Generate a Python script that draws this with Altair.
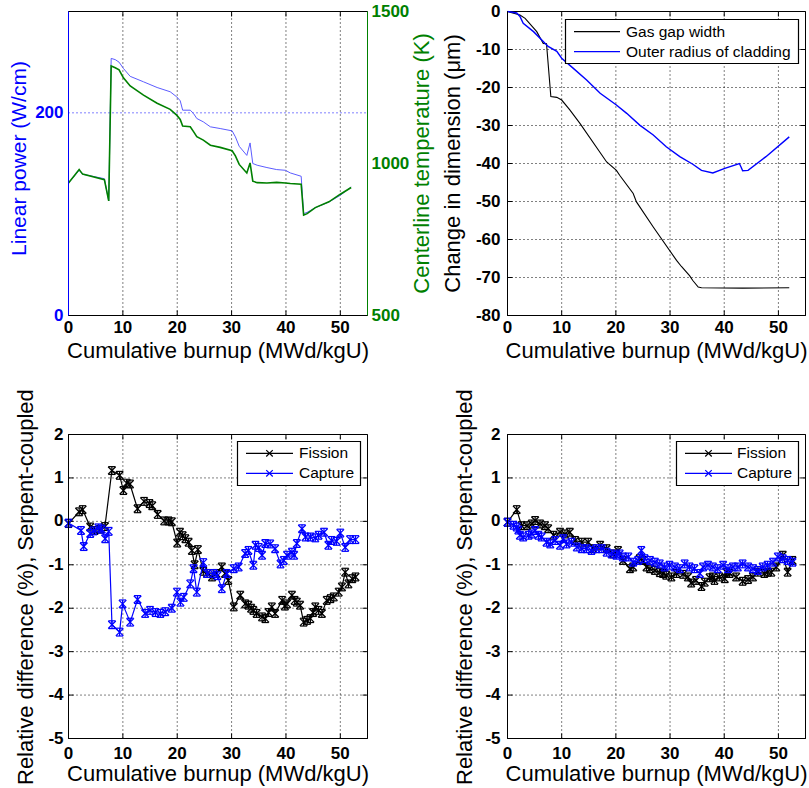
import altair as alt
import pandas as pd

# ---------------- data ----------------
# (a) linear power and centreline temperature vs burnup
p1_burnup = [0, 1.96, 2.6, 6.6, 7.4, 7.85, 8.6, 9.3, 10.1, 11.35, 13.8, 16.3, 18.7, 19.9, 20.55,
             21.0, 22.4, 23.0, 23.6, 24.8, 26.1, 27.9, 30.1, 30.7, 31.4, 32.8, 33.4, 33.9, 34.7, 36.5,
             38.3, 39.9, 40.8, 42.8, 43.25, 43.9, 45.4, 47.9, 50.0, 52.0]
p1_power = [130.8, 143.3, 139.4, 135.0, 113.0, 253.7, 252.5, 250.0, 243.8, 236.0, 230.6, 225.0, 220.8,
            215.8, 211.9, 202.6, 202.6, 199.3, 194.4, 191.1, 186.2, 184.5, 182.2, 176.3, 167.0, 158.0,
            170.3, 150.0, 148.3, 146.0, 144.0, 143.3, 140.7, 137.4, 100.5, 101.8, 106.4, 112.0, 118.6, 126.9]
p1_temp = [936, 980, 965, 947, 877, 1321, 1315, 1308, 1282, 1255, 1225, 1198, 1178, 1159, 1145,
           1123, 1121, 1105, 1088, 1077, 1060, 1053, 1042, 1025, 997, 969, 1002, 942, 937, 936,
           938, 936, 934, 932, 830, 835, 855, 874, 899, 921]

# (b) dimension changes
p2_gap_burnup = [0, 2.3, 3.25, 5.4, 6.6, 7.2, 8.0, 9.1, 10.0, 11.5, 13.4, 18.3, 20.1, 20.7, 23.2,
                 23.8, 26.9, 31.2, 32.1, 33.6, 34.2, 35.2, 35.8, 43.4, 52.0]
p2_gap_change = [0, -0.9, -1.8, -5.3, -8.4, -8.5, -22.4, -22.6, -23.3, -25.9, -29.5, -39.6, -41.8, -43.1,
                 -47.9, -50.1, -56.7, -65.5, -67.1, -69.5, -70.8, -72.5, -72.7, -72.8, -72.7]
p2_clad_burnup = [0, 1.7, 2.3, 2.9, 4.8, 6.6, 7.5, 9.1, 10.0, 12.1, 14.6, 17.1, 20.1, 22.0, 24.4,
                  26.9, 29.3, 31.8, 34.2, 35.8, 37.9, 40.1, 42.8, 43.1, 43.4, 44.4, 47.7, 52.0]
p2_clad_change = [0, -0.4, -1.3, -3.1, -5.3, -7.9, -9.2, -10.5, -12.3, -14.9, -18.0, -21.5, -24.6, -26.8,
                  -29.9, -32.5, -35.6, -38.2, -40.2, -41.8, -42.5, -41.3, -40.0, -40.9, -41.9, -41.8,
                  -38.2, -33.0]

# (c) relative difference, first case
p3_fis_burnup = [0, 1.96, 2.6, 4.0, 4.8, 5.8, 6.7, 7.98, 9.4, 10.1, 10.7, 11.3, 12.7, 13.9, 14.9,
                 15.4, 16.4, 17.6, 18.4, 19.0, 20.0, 20.5, 21.0, 21.5, 22.1, 22.7, 23.2, 23.8, 24.8, 25.5,
                 26.4, 27.2, 28.2, 28.8, 29.4, 30.4, 31.6, 32.5, 33.1, 33.6, 34.0, 34.6, 35.6, 36.2, 36.8,
                 37.4, 38.0, 39.3, 39.8, 40.2, 41.1, 41.6, 42.0, 42.6, 43.25, 43.9, 44.5, 45.0, 45.4, 46.0,
                 46.6, 47.5, 48.2, 48.8, 49.7, 50.3, 50.9, 51.5, 52.2, 52.8]
p3_fis_diff = [-0.05, 0.22, 0.27, -0.13, -0.21, -0.18, -0.12, 1.17, 1.06, 0.71, 0.88, 0.86, 0.29, 0.46, 0.41,
               0.36, 0.16, 0.01, 0.01, -0.01, -0.50, -0.25, -0.33, -0.40, -0.48, -0.67, -1.00, -0.65, -1.15, -1.20,
               -1.28, -1.20, -1.05, -1.20, -1.36, -1.97, -1.70, -1.90, -1.93, -2.00, -2.05, -2.12, -2.20, -2.24, -2.10,
               -1.97, -2.12, -1.82, -1.95, -1.90, -1.70, -1.82, -1.86, -1.93, -2.32, -2.28, -2.24, -2.10, -1.97, -2.05,
               -2.12, -1.82, -1.78, -1.74, -1.63, -1.51, -1.17, -1.44, -1.32, -1.28]
p3_cap_burnup = [0, 2.3, 2.8, 4.0, 4.6, 5.5, 6.1, 6.75, 7.4, 8.0, 9.4, 9.95, 11.35, 12.7, 14.1,
                 15.0, 16.0, 16.9, 17.8, 19.0, 19.95, 20.6, 21.2, 22.4, 23.0, 23.6, 24.8, 25.5, 26.7, 27.4,
                 28.2, 29.1, 30.4, 31.3, 32.5, 33.1, 34.0, 34.4, 35.0, 35.6, 36.2, 37.1, 38.0, 39.0, 39.6,
                 40.2, 41.1, 41.5, 42.0, 42.95, 43.6, 44.5, 45.4, 46.0, 47.0, 47.8, 48.4, 49.3, 50.0, 50.9,
                 51.8, 52.8]
p3_cap_diff = [-0.04, -0.21, -0.58, -0.28, -0.22, -0.15, -0.18, -0.40, -0.23, -2.38, -2.55, -1.90, -2.32, -1.80, -2.12,
               -2.05, -2.10, -2.12, -2.08, -2.00, -1.63, -1.86, -1.75, -1.44, -1.09, -1.63, -0.95, -1.20, -1.20, -1.25,
               -1.55, -1.20, -1.09, -1.05, -0.74, -0.67, -1.01, -0.55, -0.60, -0.78, -0.51, -0.52, -0.63, -0.98, -0.90,
               -0.78, -0.71, -0.78, -0.51, -0.17, -0.36, -0.36, -0.38, -0.32, -0.25, -0.55, -0.44, -0.46, -0.27, -0.60,
               -0.42, -0.42]

# (d) relative difference, second case
p4_fis_burnup = [0, 1.7, 2.6, 3.6, 4.5, 5.1, 6.0, 6.9, 7.5, 8.5, 9.7, 10.6, 11.5, 12.5, 13.7,
                 14.9, 15.8, 17.1, 18.3, 19.5, 20.4, 21.3, 22.6, 23.2, 24.4, 25.0, 25.65, 26.3, 27.2, 28.1,
                 28.7, 29.3, 30.25, 31.2, 32.4, 33.3, 33.9, 34.8, 35.8, 36.4, 37.3, 37.9, 38.2, 39.1, 40.1,
                 40.4, 41.0, 42.2, 43.4, 44.4, 45.3, 46.2, 47.4, 48.0, 48.7, 49.6, 50.8, 51.7, 52.6]
p4_fis_diff = [-0.02, 0.27, -0.10, -0.10, -0.06, 0.02, -0.06, -0.10, -0.17, -0.32, -0.25, -0.29, -0.25, -0.44, -0.48,
               -0.48, -0.63, -0.55, -0.63, -0.75, -0.67, -0.90, -1.09, -1.05, -0.86, -0.90, -1.05, -1.09, -1.13, -1.18,
               -1.20, -1.24, -1.28, -1.20, -1.22, -1.28, -1.42, -1.36, -1.50, -1.40, -1.30, -1.28, -1.36, -1.28, -1.32,
               -1.17, -1.20, -1.28, -1.38, -1.34, -1.28, -1.17, -1.20, -1.17, -1.17, -1.05, -0.78, -1.17, -0.90]
p4_cap_burnup = [0, 1.1, 1.7, 2.0, 2.3, 2.9, 3.9, 4.5, 5.1, 5.7, 6.3, 7.2, 7.9, 8.8, 9.7,
                 10.3, 10.9, 11.8, 12.8, 13.7, 14.6, 15.5, 16.4, 17.4, 18.3, 19.2, 20.1, 20.7, 21.3, 22.3,
                 23.2, 24.1, 24.7, 25.3, 26.3, 27.2, 28.1, 29.0, 29.9, 30.9, 31.8, 32.7, 33.6, 34.5, 35.5,
                 36.1, 37.0, 37.9, 38.8, 39.8, 40.7, 41.6, 42.5, 43.4, 44.4, 45.3, 46.2, 47.1, 48.0, 49.0,
                 49.9, 50.8, 51.7, 52.6]
p4_cap_diff = [-0.02, -0.09, -0.13, -0.20, -0.32, -0.36, -0.32, -0.29, -0.21, -0.32, -0.36, -0.48, -0.52, -0.44, -0.55,
               -0.40, -0.52, -0.48, -0.59, -0.63, -0.63, -0.67, -0.63, -0.63, -0.71, -0.75, -0.78, -0.75, -0.82, -0.82,
               -0.94, -0.90, -0.67, -0.86, -0.90, -0.94, -0.98, -1.05, -1.01, -1.05, -1.09, -0.98, -1.05, -1.09, -1.20,
               -1.05, -1.01, -1.05, -1.09, -1.01, -1.09, -1.05, -1.05, -0.98, -1.05, -1.09, -1.13, -1.05, -1.01, -0.94,
               -0.82, -0.86, -0.90, -0.94]

err_half = 0.09  # estimated half-length of the statistical error bars (%)

# axes / ticks
burnup_domain = [0, 55]
burnup_ticks = [0, 10, 20, 30, 40, 50]
burnup_grid = [10, 20, 30, 40, 50]
power_domain = [0, 300]
power_ticks = [0, 200]
power_grid = [200]
temp_domain = [500, 1500]
temp_ticks = [500, 1000, 1500]
dim_domain = [-80, 0]
dim_ticks = [0, -10, -20, -30, -40, -50, -60, -70, -80]
dim_grid = [-10, -20, -30, -40, -50, -60, -70]
diff_domain = [-5, 2]
diff_ticks = [2, 1, 0, -1, -2, -3, -4, -5]
diff_grid = [1, 0, -1, -2, -3, -4]

legend2_labels = ["Gas gap width", "Outer radius of cladding"]
legend34_labels = ["Fission", "Capture"]

# ---------------- layout ----------------
W, H = 809, 788
XL = [68.5, 367.5]
XR = [507.5, 805.5]
YT = [315.5, 11.5]
YB = [738.5, 434.5]

FONT = "Liberation Sans"
BLACK, BLUE, GREEN, LBLUE = "#000000", "#0000ff", "#008000", "#5c5cff"
XMARK = "M-1,-1L1,1M-1,1L1,-1"


def sc(domain, rng):
    return alt.Scale(domain=domain, range=rng, nice=False, zero=False)


def x_axis(y_bottom, pad):
    return alt.Axis(orient="bottom", offset=y_bottom - H, translate=0, values=burnup_ticks,
                    labelExpr="'' + datum.value", grid=False, ticks=False, tickSize=0,
                    domainColor=BLACK, domainWidth=1, labelColor=BLACK, labelFont=FONT,
                    labelFontSize=17, labelFontWeight="bold", labelPadding=pad,
                    labelOverlap=False, labelFlush=False,
                    title="Cumulative burnup (MWd/kgU)", titleFont=FONT, titleFontSize=22,
                    titleFontWeight="normal", titleColor=BLACK, titleY=42.5,
                    titleBaseline="alphabetic", zindex=1)


def y_axis(orient, x_pos, values, title, color, title_x, pad, title_y=None,
           title_align=None, title_size=22):
    kw = dict(orient=orient, offset=(-x_pos if orient == "left" else x_pos - W), translate=0,
              values=values, labelExpr="'' + datum.value", grid=False, ticks=False, tickSize=0,
              domainColor=color, domainWidth=1, labelColor=color, labelFont=FONT,
              labelFontSize=17, labelFontWeight="bold", labelPadding=pad,
              labelOverlap=False, labelFlush=False,
              title=title, titleFont=FONT, titleFontSize=title_size, titleFontWeight="normal",
              titleColor=color, titleAngle=270, titleX=title_x, titleBaseline="alphabetic",
              zindex=1)
    if title_y is not None:
        kw["titleY"] = title_y
    if title_align is not None:
        kw["titleAlign"] = title_align
    return alt.Axis(**kw)


class Panel:
    """Scales and axes shared by every layer of one panel (identical on each layer)."""

    def __init__(self, xs, ys, xa, ya):
        self.xs, self.ys, self.xa, self.ya = xs, ys, xa, ya

    def X(self, f):
        return alt.X(f, scale=self.xs, axis=self.xa)

    def Y(self, f):
        return alt.Y(f, scale=self.ys, axis=self.ya)


def frame(p, ydom, ygrid, ygrid_color, yticks=None):
    box_df = pd.DataFrame({"x0": [burnup_domain[0]], "x1": [burnup_domain[1]],
                           "y0": [ydom[0]], "y1": [ydom[1]]})
    box = alt.Chart(box_df).mark_rect(fill="transparent", stroke=BLACK, strokeWidth=1).encode(
        x=p.X("x0:Q"), x2="x1:Q", y=p.Y("y0:Q"), y2="y1:Q")
    gx_df = pd.DataFrame({"g": burnup_grid})
    gx_df["y0"] = ydom[0]
    gx_df["y1"] = ydom[1]
    gx = alt.Chart(gx_df).mark_rule(color=BLACK, strokeWidth=1, strokeDash=[1, 3]).encode(
        x=p.X("g:Q"), y=p.Y("y0:Q"), y2="y1:Q")
    gy_df = pd.DataFrame({"g": ygrid})
    gy_df["x0"] = burnup_domain[0]
    gy_df["x1"] = burnup_domain[1]
    gy = alt.Chart(gy_df).mark_rule(color=ygrid_color, strokeWidth=1, strokeDash=[1, 3]).encode(
        y=p.Y("g:Q"), x=p.X("x0:Q"), x2="x1:Q")
    layers = [box, gx, gy]
    # inward tick marks (MATLAB style)
    tb_df = pd.DataFrame({"t": burnup_ticks})
    tb_df["ylo"] = ydom[0]
    tb_df["yhi"] = ydom[1]
    layers.append(alt.Chart(tb_df).mark_tick(orient="vertical", size=5, thickness=1, color=BLACK,
                                             opacity=1, yOffset=-2.5).encode(
        x=p.X("t:Q"), y=p.Y("ylo:Q")))
    layers.append(alt.Chart(tb_df).mark_tick(orient="vertical", size=5, thickness=1, color=BLACK,
                                             opacity=1, yOffset=2.5).encode(
        x=p.X("t:Q"), y=p.Y("yhi:Q")))
    if yticks is not None:
        ty_df = pd.DataFrame({"t": yticks})
        ty_df["xlo"] = burnup_domain[0]
        ty_df["xhi"] = burnup_domain[1]
        layers.append(alt.Chart(ty_df).mark_tick(orient="horizontal", size=5, thickness=1, color=BLACK,
                                                 opacity=1, xOffset=2.5).encode(
            y=p.Y("t:Q"), x=p.X("xlo:Q")))
        layers.append(alt.Chart(ty_df).mark_tick(orient="horizontal", size=5, thickness=1, color=BLACK,
                                                 opacity=1, xOffset=-2.5).encode(
            y=p.Y("t:Q"), x=p.X("xhi:Q")))
    return layers


def curve(p, burnup, values, color, width):
    df = pd.DataFrame({"b": burnup, "v": values})
    return alt.Chart(df).mark_line(color=color, strokeWidth=width).encode(
        x=p.X("b:Q"), y=p.Y("v:Q"))


def err_series(p, burnup, values, color):
    df = pd.DataFrame({"b": burnup, "v": values})
    df["lo"] = df["v"] - err_half
    df["hi"] = df["v"] + err_half
    base = alt.Chart(df)
    line = base.mark_line(color=color, strokeWidth=1.2).encode(x=p.X("b:Q"), y=p.Y("v:Q"))
    bar = base.mark_rule(color=color, strokeWidth=1.2).encode(x=p.X("b:Q"), y=p.Y("lo:Q"), y2="hi:Q")
    cap1 = base.mark_tick(orient="horizontal", size=7, thickness=1.2, color=color, opacity=1).encode(
        x=p.X("b:Q"), y=p.Y("lo:Q"))
    cap2 = base.mark_tick(orient="horizontal", size=7, thickness=1.2, color=color, opacity=1).encode(
        x=p.X("b:Q"), y=p.Y("hi:Q"))
    pts = base.mark_point(shape=XMARK, size=56, filled=False, color=color, opacity=1,
                          strokeWidth=1.3).encode(x=p.X("b:Q"), y=p.Y("v:Q"))
    return [line, bar, cap1, cap2, pts]


def legend(box_px, line_px, row_ys, text_x, labels, colors, marker):
    out = []
    box_df = pd.DataFrame({"label": [labels[0]]})
    out.append(alt.Chart(box_df).mark_rect(fill="white", stroke=BLACK, strokeWidth=1.2).encode(
        x=alt.value(box_px[0]), x2=alt.value(box_px[1]),
        y=alt.value(box_px[2]), y2=alt.value(box_px[3])))
    for lab, col, yy in zip(labels, colors, row_ys):
        c = alt.Chart(pd.DataFrame({"label": [lab]}))
        out.append(c.mark_rule(color=col, strokeWidth=1.2).encode(
            x=alt.value(line_px[0]), x2=alt.value(line_px[1]), y=alt.value(yy)))
        if marker:
            out.append(c.mark_point(shape=XMARK, size=42, filled=False, color=col, opacity=1,
                                    strokeWidth=1.2).encode(
                x=alt.value((line_px[0] + line_px[1]) / 2), y=alt.value(yy)))
        out.append(c.mark_text(align="left", baseline="middle", font=FONT, fontSize=15.5,
                               color=BLACK).encode(
            x=alt.value(text_x), y=alt.value(yy), text="label:N"))
    return out


# ---------------- panel (a) ----------------
xa1 = x_axis(YT[0], 4)
pP = Panel(sc(burnup_domain, XL), sc(power_domain, YT), xa1,
           y_axis("left", XL[0], power_ticks, "Linear power (W/cm)", BLUE, -42.5, 5,
                  title_y=158.5, title_size=21))
pT = Panel(sc(burnup_domain, XL), sc(temp_domain, YT), xa1,
           y_axis("right", XL[1], temp_ticks, "Centerline temperature (K)", GREEN, 61.5, 4))
left_part = alt.layer(
    *frame(pP, power_domain, power_grid, BLUE),
    curve(pP, p1_burnup, p1_power, LBLUE, 1),
)
right_part = alt.layer(curve(pT, p1_burnup, p1_temp, GREEN, 1.6))
panel1 = alt.layer(left_part, right_part).resolve_scale(y="independent")

# ---------------- panel (b) ----------------
p2 = Panel(sc(burnup_domain, XR), sc(dim_domain, YT), x_axis(YT[0], 4),
           y_axis("left", XR[0], dim_ticks, "Change in dimension (μm)", BLACK, -47.5, 7))
panel2 = alt.layer(
    *frame(p2, dim_domain, dim_grid, BLACK, yticks=dim_ticks),
    curve(p2, p2_gap_burnup, p2_gap_change, BLACK, 1.1),
    curve(p2, p2_clad_burnup, p2_clad_change, BLUE, 1.4),
)

# ---------------- panel (c) ----------------
ylab = "Relative difference (%), Serpent-coupled"
p3 = Panel(sc(burnup_domain, XL), sc(diff_domain, YB), x_axis(YB[0], 7),
           y_axis("left", XL[0], diff_ticks, ylab, BLACK, -35.5, 5, title_y=785, title_align="left"))
panel3 = alt.layer(
    *frame(p3, diff_domain, diff_grid, BLACK, yticks=diff_ticks),
    *err_series(p3, p3_fis_burnup, p3_fis_diff, BLACK),
    *err_series(p3, p3_cap_burnup, p3_cap_diff, BLUE),
)

# ---------------- panel (d) ----------------
p4 = Panel(sc(burnup_domain, XR), sc(diff_domain, YB), x_axis(YB[0], 7),
           y_axis("left", XR[0], diff_ticks, ylab, BLACK, -36, 7, title_y=785, title_align="left"))
panel4 = alt.layer(
    *frame(p4, diff_domain, diff_grid, BLACK, yticks=diff_ticks),
    *err_series(p4, p4_fis_burnup, p4_fis_diff, BLACK),
    *err_series(p4, p4_cap_burnup, p4_cap_diff, BLUE),
)

legends = (
    legend([565.5, 798.5, 19.5, 63.5], [574, 620], [31.7, 51.7], 626, legend2_labels, [BLACK, BLUE], False)
    + legend([237.5, 360.5, 441.5, 485.5], [246, 293], [453.3, 473.3], 299, legend34_labels, [BLACK, BLUE], True)
    + legend([676.5, 798.5, 441.5, 485.5], [685, 732], [453.3, 473.3], 737, legend34_labels, [BLACK, BLUE], True)
)

chart = alt.layer(panel1, panel2, panel3, panel4, *legends).resolve_scale(
    x="independent", y="independent"
).properties(
    width=W, height=H, autosize=alt.AutoSizeParams(type="none"), padding=0,
    background="white",
).configure_view(stroke=None)

chart.save("out.html", embed_options={"renderer": "svg", "actions": False})
